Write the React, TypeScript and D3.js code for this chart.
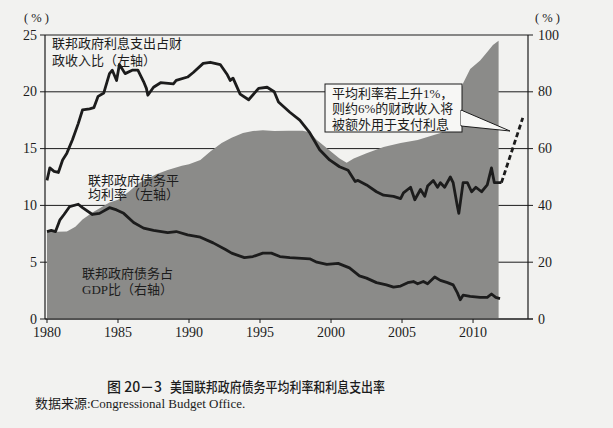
import * as d3 from "d3";

// 联邦政府利息支出占财政收入比 (左轴, %)
const interestToRevenue: [number, number][] = [
  [1980.0, 12.2], [1980.2, 13.3], [1980.5, 13.0], [1980.8, 12.9], [1981.1, 14.0],
  [1981.4, 14.6], [1981.8, 15.8], [1982.2, 17.2], [1982.5, 18.4], [1983.0, 18.5],
  [1983.3, 18.6], [1983.6, 19.6], [1984.0, 19.9], [1984.4, 21.6], [1984.6, 21.9],
  [1984.9, 21.0], [1985.1, 22.4], [1985.5, 21.6], [1986.0, 21.9], [1986.4, 21.9],
  [1986.8, 20.9], [1987.0, 20.3], [1987.1, 19.7], [1987.5, 20.4], [1988.0, 20.8],
  [1988.9, 20.7], [1989.1, 21.0], [1989.9, 21.3], [1990.3, 21.7], [1991.0, 22.5],
  [1991.5, 22.6], [1992.2, 22.4], [1992.7, 21.5], [1992.9, 21.0], [1993.1, 21.2],
  [1993.6, 19.8], [1994.2, 19.3], [1994.9, 20.3], [1995.5, 20.4], [1996.0, 20.0],
  [1996.3, 19.1], [1997.1, 18.2], [1997.8, 17.5], [1998.5, 16.4], [1999.2, 14.9],
  [1999.9, 14.0], [2000.6, 13.4], [2001.2, 13.1], [2001.5, 12.5], [2001.7, 12.1],
  [2001.9, 12.2], [2002.5, 11.8], [2003.2, 11.2], [2003.7, 10.9], [2004.4, 10.8],
  [2004.9, 10.6], [2005.1, 11.1], [2005.6, 11.6], [2005.9, 10.5], [2006.3, 11.4],
  [2006.6, 10.8], [2006.8, 11.7], [2007.2, 12.2], [2007.5, 11.6], [2007.7, 12.0],
  [2008.0, 11.6], [2008.4, 12.5], [2008.6, 12.0], [2008.9, 9.9], [2009.0, 9.3],
  [2009.3, 12.0], [2009.6, 12.0], [2009.9, 11.2], [2010.2, 11.6], [2010.6, 11.2],
  [2011.0, 11.8], [2011.3, 13.3], [2011.5, 12.0], [2012.0, 12.0],
];

// 利率上升1%后的假设
const projection: [number, number][] = [
  [2012.0, 12.0], [2013.5, 17.7],
];

// 联邦政府债务平均利率 (左轴, %)
const avgRate: [number, number][] = [
  [1980.0, 7.7], [1980.3, 7.8], [1980.6, 7.7], [1980.9, 8.7], [1981.2, 9.2],
  [1981.6, 9.9], [1982.2, 10.1], [1982.5, 9.8], [1983.2, 9.2], [1983.7, 9.3],
  [1984.4, 9.8], [1984.9, 9.6], [1985.4, 9.3], [1986.1, 8.5], [1986.8, 8.0],
  [1987.5, 7.8], [1988.5, 7.6], [1989.1, 7.7], [1989.9, 7.4], [1990.8, 7.2],
  [1991.7, 6.7], [1992.6, 6.1], [1993.0, 5.8], [1993.9, 5.4], [1994.5, 5.5],
  [1995.2, 5.8], [1995.8, 5.8], [1996.4, 5.5], [1997.1, 5.4], [1998.5, 5.3],
  [1999.0, 5.0], [1999.7, 4.8], [2000.5, 4.9], [2001.3, 4.5], [2002.0, 3.8],
  [2002.5, 3.6], [2003.2, 3.2], [2003.9, 3.0], [2004.4, 2.8], [2004.9, 2.9],
  [2005.4, 3.2], [2005.8, 3.3], [2006.1, 3.1], [2006.5, 3.3], [2006.8, 3.1],
  [2007.3, 3.7], [2007.7, 3.4], [2008.2, 3.2], [2008.6, 3.0], [2008.9, 2.3],
  [2009.1, 1.7], [2009.3, 2.1], [2009.8, 2.0], [2010.5, 1.9], [2011.0, 1.9],
  [2011.3, 2.2], [2011.6, 1.9], [2011.9, 1.8],
];

// 联邦政府债务占GDP比 (右轴, %)
const debtToGdp: [number, number][] = [
  [1980.0, 30.6], [1981.4, 30.8], [1982.0, 32.5], [1982.5, 35.0], [1983.2, 37.5],
  [1984.4, 41.0], [1985.0, 42.0], [1985.8, 45.0], [1986.5, 48.0], [1987.7, 51.0],
  [1988.5, 52.5], [1989.5, 54.0], [1990.0, 54.5], [1990.8, 56.0], [1991.5, 59.0],
  [1992.3, 62.0], [1993.0, 63.8], [1993.8, 65.5], [1994.5, 66.2], [1995.2, 66.5],
  [1996.0, 66.2], [1997.0, 66.3], [1998.0, 66.3], [1998.5, 65.8], [1999.0, 63.0],
  [1999.5, 61.0], [2000.1, 58.5], [2000.6, 56.5], [2001.1, 55.0], [2001.6, 56.5],
  [2002.5, 58.4], [2003.7, 60.6], [2004.9, 62.0], [2006.1, 63.0], [2007.7, 65.5],
  [2008.3, 67.0], [2008.8, 75.0], [2009.3, 83.0], [2009.8, 88.0], [2010.5, 91.0],
  [2011.0, 94.0], [2011.4, 96.5], [2011.8, 98.0],
];

const yearTicks = [1980, 1985, 1990, 1995, 2000, 2005, 2010];
const leftTicks = [0, 5, 10, 15, 20, 25];
const rightTicks = [0, 20, 40, 60, 80, 100];

const serif = "'Liberation Serif', 'DejaVu Serif', 'Noto Sans CJK SC', serif";
const cjk = "'Liberation Serif', 'Noto Sans CJK SC', serif";

export default function App() {
  const W = 613;
  const H = 428;
  const left = 45;
  const right = 528;
  const top = 35;
  const bottom = 319;

  const x = d3.scaleLinear().domain([1979.86, 2013.87]).range([left, right]);
  const yL = d3.scaleLinear().domain([0, 25]).range([bottom, top]);
  const yR = d3.scaleLinear().domain([0, 100]).range([bottom, top]);

  const lineL = d3
    .line<[number, number]>()
    .x((d) => x(d[0]))
    .y((d) => yL(d[1]));

  const area = d3
    .area<[number, number]>()
    .x((d) => x(d[0]))
    .y0(bottom)
    .y1((d) => yR(d[1]));

  const ink = "#1c1c1c";
  const paper = "#f2f2f0";

  return (
    <svg
      width={W}
      height={H}
      style={{ position: "absolute", left: 0, top: 0, background: paper }}
    >
      {/* gridlines behind the area */}
      {leftTicks.map((t) => (
        <line key={"g" + t} x1={left - 5} x2={right + 5} y1={yL(t)} y2={yL(t)} stroke={ink} strokeWidth={1} />
      ))}

      <path d={area(debtToGdp) || ""} fill="#8b8b89" />

      {/* axes */}
      <line x1={left} x2={left} y1={top} y2={bottom} stroke={ink} strokeWidth={1.2} />
      <line x1={right} x2={right} y1={top} y2={bottom} stroke={ink} strokeWidth={1.2} />
      <line x1={left} x2={right + 5} y1={bottom} y2={bottom} stroke={ink} strokeWidth={1.2} />
      {yearTicks.map((t) => (
        <g key={"x" + t}>
          <line x1={x(t)} x2={x(t)} y1={bottom} y2={bottom + 4} stroke={ink} strokeWidth={1} />
          <text x={x(t)} y={337} textAnchor="middle" fontFamily={serif} fontSize={14} fill={ink}>
            {t}
          </text>
        </g>
      ))}
      {leftTicks.map((t) => (
        <text key={"l" + t} x={37} y={yL(t) + 4.5} textAnchor="end" fontFamily={serif} fontSize={14} fill={ink}>
          {t}
        </text>
      ))}
      {rightTicks.map((t) => (
        <text key={"r" + t} x={538} y={yR(t) + 4.5} textAnchor="start" fontFamily={serif} fontSize={14} fill={ink}>
          {t}
        </text>
      ))}
      <text x={24} y={22} fontFamily={serif} fontSize={12.5} fill={ink}>( % )</text>
      <text x={535} y={22} fontFamily={serif} fontSize={12.5} fill={ink}>( % )</text>

      {/* series */}
      <path d={lineL(avgRate) || ""} fill="none" stroke={ink} strokeWidth={2.8} strokeLinejoin="round" />
      <path d={lineL(interestToRevenue) || ""} fill="none" stroke={ink} strokeWidth={2.8} strokeLinejoin="round" />
      <path d={lineL(projection) || ""} fill="none" stroke={ink} strokeWidth={2.8} strokeDasharray="5,3" />

      {/* labels */}
      <g fontFamily={cjk} fontSize={13} fill={ink}>
        <text x={52} y={48}>联邦政府利息支出占财</text>
        <text x={52} y={65}>政收入比（左轴）</text>
        <text x={88} y={185}>联邦政府债务平</text>
        <text x={88} y={199}>均利率（左轴）</text>
        <text x={82} y={278}>联邦政府债务占</text>
        <text x={82} y={294}>GDP比（右轴）</text>
      </g>

      {/* callout */}
      <rect x={325} y={84} width={137} height={48} fill="#f7f7f5" stroke={ink} strokeWidth={1} />
      <polygon points="461,110 510,131 461,126" fill="#f7f7f5" stroke={ink} strokeWidth={1} />
      <line x1={462} x2={462} y1={111} y2={125} stroke="#f7f7f5" strokeWidth={2} />
      <g fontFamily={cjk} fontSize={13} fill={ink}>
        <text x={332} y={98}>平均利率若上升1%，</text>
        <text x={332} y={113}>则约6%的财政收入将</text>
        <text x={332} y={129}>被额外用于支付利息</text>
      </g>

      {/* caption */}
      <text x={107} y={392} fontFamily="'Noto Sans CJK SC', sans-serif" fontSize={14} fontWeight={500} fill={ink}>
        图 20－3
      </text>
      <text
        x={170}
        y={392}
        fontFamily="'Noto Sans CJK SC', sans-serif"
        fontSize={13.5}
        fontWeight={500}
        fill={ink}
        textLength={215}
        lengthAdjust="spacingAndGlyphs"
      >
        美国联邦政府债务平均利率和利息支出率
      </text>
      <text x={35} y={408} fontFamily={cjk} fontSize={13} fill={ink}>
        数据来源:Congressional Budget Office.
      </text>
    </svg>
  );
}
